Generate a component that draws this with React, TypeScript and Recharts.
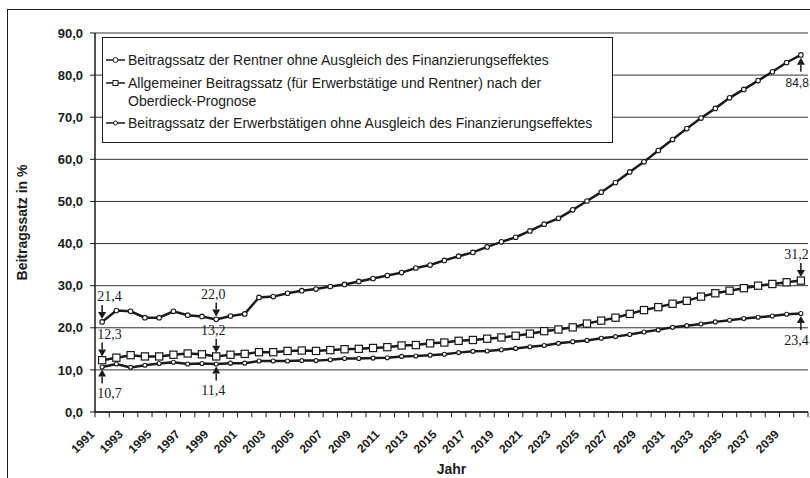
import React from 'react';
import { LineChart, Line, XAxis, YAxis, CartesianGrid, Legend, ReferenceLine } from 'recharts';

const YEARS = [
  1991, 1992, 1993, 1994, 1995, 1996, 1997, 1998, 1999, 2000,
  2001, 2002, 2003, 2004, 2005, 2006, 2007, 2008, 2009, 2010,
  2011, 2012, 2013, 2014, 2015, 2016, 2017, 2018, 2019, 2020,
  2021, 2022, 2023, 2024, 2025, 2026, 2027, 2028, 2029, 2030,
  2031, 2032, 2033, 2034, 2035, 2036, 2037, 2038, 2039, 2040,
];

// Beitragssatz der Rentner ohne Ausgleich des Finanzierungseffektes
const RENTNER = [
  21.4, 24.1, 23.9, 22.4, 22.4, 23.9, 23.0, 22.7, 22.0, 22.8,
  23.3, 27.2, 27.4, 28.2, 28.8, 29.2, 29.8, 30.3, 31.0, 31.7,
  32.4, 33.1, 34.2, 34.9, 36.0, 37.0, 37.9, 39.2, 40.4, 41.5,
  43.0, 44.6, 46.0, 48.0, 50.1, 52.2, 54.5, 57.0, 59.4, 62.1,
  64.7, 67.3, 69.8, 72.1, 74.6, 76.6, 78.7, 80.8, 83.0, 84.8,
];

// Allgemeiner Beitragssatz (Oberdieck-Prognose)
const ALLGEMEIN = [
  12.3, 12.9, 13.5, 13.2, 13.2, 13.6, 13.9, 13.7, 13.2, 13.6,
  13.8, 14.2, 14.2, 14.5, 14.6, 14.5, 14.7, 14.9, 15.0, 15.2,
  15.4, 15.8, 15.9, 16.3, 16.5, 16.9, 17.1, 17.4, 17.7, 18.1,
  18.6, 19.2, 19.6, 20.1, 21.0, 21.7, 22.4, 23.3, 24.2, 24.9,
  25.7, 26.4, 27.4, 28.2, 28.8, 29.4, 30.0, 30.4, 30.8, 31.2,
];

// Beitragssatz der Erwerbstätigen ohne Ausgleich des Finanzierungseffektes
const ERWERB = [
  10.7, 11.4, 10.6, 11.1, 11.5, 11.8, 11.4, 11.5, 11.4, 11.6,
  11.6, 12.1, 12.1, 12.1, 12.2, 12.2, 12.4, 12.7, 12.7, 12.8,
  12.9, 13.2, 13.3, 13.5, 13.7, 14.1, 14.4, 14.5, 14.8, 15.1,
  15.5, 15.8, 16.3, 16.7, 17.0, 17.5, 17.9, 18.4, 19.0, 19.5,
  20.1, 20.5, 20.9, 21.4, 21.8, 22.2, 22.5, 22.8, 23.2, 23.4,
];

const X_LABELS = [
  1991, 1993, 1995, 1997, 1999, 2001, 2003, 2005, 2007, 2009, 2011, 2013,
  2015, 2017, 2019, 2021, 2023, 2025, 2027, 2029, 2031, 2033, 2035, 2037, 2039,
];
const Y_TICKS = [0, 10, 20, 30, 40, 50, 60, 70, 80, 90];

const SERIES_ORDER = ['rentner', 'allgemein', 'erwerb'];
const SERIES_NAMES: Record<string, string> = {
  rentner: 'Beitragssatz der Rentner ohne Ausgleich des Finanzierungseffektes',
  allgemein: 'Allgemeiner Beitragssatz (für Erwerbstätige und Rentner) nach der\nOberdieck-Prognose',
  erwerb: 'Beitragssatz der Erwerbstätigen ohne Ausgleich des Finanzierungseffektes',
};

type Annotation = {
  series: string;
  year: number;
  text: string;
  dir: 'up' | 'down';
  align: 'start' | 'middle' | 'end';
  sans?: boolean;
};

const ANNOTATIONS: Annotation[] = [
  { series: 'rentner', year: 1991, text: '21,4', dir: 'down', align: 'start' },
  { series: 'rentner', year: 1999, text: '22,0', dir: 'down', align: 'middle' },
  { series: 'rentner', year: 2040, text: '84,8', dir: 'up', align: 'end', sans: true },
  { series: 'allgemein', year: 1991, text: '12,3', dir: 'down', align: 'start' },
  { series: 'allgemein', year: 1999, text: '13,2', dir: 'down', align: 'middle' },
  { series: 'allgemein', year: 2040, text: '31,2', dir: 'down', align: 'end' },
  { series: 'erwerb', year: 1991, text: '10,7', dir: 'up', align: 'start' },
  { series: 'erwerb', year: 1999, text: '11,4', dir: 'up', align: 'middle' },
  { series: 'erwerb', year: 2040, text: '23,4', dir: 'up', align: 'end' },
];

const SANS = '"Liberation Sans", Arial, sans-serif';
const SERIF = '"Liberation Serif", "Times New Roman", serif';
const INK = '#1a1a1a';

const data = YEARS.map((year, i) => ({
  year,
  rentner: RENTNER[i],
  allgemein: ALLGEMEIN[i],
  erwerb: ERWERB[i],
}));

// tick marks sit between the categories, like the Excel original
const BOUNDARY_TICKS = [...YEARS.map(y => y - 0.5), YEARS[YEARS.length - 1] + 0.5];
const X_DOMAIN = [BOUNDARY_TICKS[0], BOUNDARY_TICKS[BOUNDARY_TICKS.length - 1]];

const fmt = (v: number) => v.toFixed(1).replace('.', ',');

const Callout = ({ cx, cy, ann, gap }: { cx: number; cy: number; ann: Annotation; gap: number }) => {
  const s = ann.dir === 'down' ? -1 : 1;
  const tip = cy + s * gap;
  const base = tip + s * 7;
  const tail = tip + s * 14;
  const ty = ann.dir === 'down' ? tail - 4 : tail + 15;
  const tx = ann.align === 'start' ? cx - 5 : ann.align === 'middle' ? cx - 3 : cx + 8;
  return (
    <g>
      <line x1={cx} y1={base} x2={cx} y2={tail} stroke={INK} strokeWidth={1.5} />
      <polygon points={`${cx},${tip} ${cx - 4},${base} ${cx + 4},${base}`} fill={INK} />
      <text
        x={tx}
        y={ty}
        textAnchor={ann.align}
        fontFamily={ann.sans ? SANS : SERIF}
        fontSize={ann.sans ? 12 : 14}
        fill={INK}
      >
        {ann.text}
      </text>
    </g>
  );
};

const makeDot = (series: string, shape: 'circle' | 'square', size: number) => (props: any) => {
  const { cx, cy, index, payload } = props;
  const key = `${series}-${index}`;
  if (cx == null || cy == null) return <g key={key} />;
  const ann = ANNOTATIONS.find(a => a.series === series && a.year === payload.year);
  return (
    <g key={key}>
      {shape === 'square' ? (
        <rect x={cx - size} y={cy - size} width={size * 2} height={size * 2} fill="#fff" stroke={INK} strokeWidth={1.2} />
      ) : (
        <circle cx={cx} cy={cy} r={size} fill="#fff" stroke={INK} strokeWidth={1.1} />
      )}
      {ann && <Callout cx={cx} cy={cy} ann={ann} gap={shape === 'square' ? size : size + 0.5} />}
    </g>
  );
};

const YearTick = (props: any) => {
  const { x, y, payload } = props;
  const ax = x - 7;
  const ay = y + 15;
  return (
    <text
      x={ax}
      y={ay}
      transform={`rotate(-45 ${ax} ${ay})`}
      textAnchor="end"
      fontFamily={SANS}
      fontWeight="bold"
      fontSize={12}
      fill={INK}
    >
      {payload.value}
    </text>
  );
};

const YTitle = (props: any) => {
  const vb = props.viewBox || { x: 0, y: 0, width: 0, height: 0 };
  const x = vb.x + 22;
  const y = vb.y + vb.height / 2;
  return (
    <text
      x={x}
      y={y}
      transform={`rotate(-90 ${x} ${y})`}
      textAnchor="middle"
      dominantBaseline="central"
      fontFamily={SANS}
      fontWeight="bold"
      fontSize={14}
      fill={INK}
    >
      Beitragssatz in %
    </text>
  );
};

const LegendMarker = ({ kind }: { kind: string }) => (
  <svg width={20} height={18} style={{ flex: 'none', marginRight: 2 }}>
    <line x1={0} y1={9} x2={19} y2={9} stroke={INK} strokeWidth={1.5} />
    {kind === 'allgemein' ? (
      <rect x={7} y={6.5} width={5} height={5} fill="#fff" stroke={INK} strokeWidth={1} />
    ) : (
      <circle cx={9.5} cy={9} r={kind === 'rentner' ? 2.5 : 2} fill="#fff" stroke={INK} strokeWidth={1} />
    )}
  </svg>
);

const LegendBox = () => (
  <div
    style={{
      border: `1px solid ${INK}`,
      background: '#fff',
      padding: '13px 4px 10px 3px',
      fontFamily: SANS,
      fontSize: 14,
      color: INK,
      boxSizing: 'border-box',
      width: 511,
    }}
  >
    {SERIES_ORDER.map((key, i) => (
      <div key={key} style={{ display: 'flex', alignItems: 'flex-start', marginBottom: i < SERIES_ORDER.length - 1 ? 4.5 : 0 }}>
        <LegendMarker kind={key} />
        <span style={{ whiteSpace: 'pre', lineHeight: '18px' }}>{SERIES_NAMES[key]}</span>
      </div>
    ))}
  </div>
);

export default function App() {
  return (
    <div style={{ position: 'absolute', left: 0, top: 0, width: 810, height: 478, overflow: 'hidden', background: '#fff' }}>
      <div
        style={{
          position: 'absolute',
          left: 7,
          top: 9,
          width: 900,
          height: 600,
          borderLeft: `1.5px solid ${INK}`,
          borderTop: `1.5px solid ${INK}`,
        }}
      />
      <LineChart width={810} height={478} data={data} margin={{ top: 33, right: 2, left: 0, bottom: 0 }}>
        <CartesianGrid vertical={false} stroke="#333" strokeWidth={1} />
        <XAxis
          dataKey="year"
          type="number"
          domain={X_DOMAIN}
          ticks={X_LABELS}
          interval={0}
          height={66}
          axisLine={{ stroke: INK, strokeWidth: 1.5 }}
          tickLine={false}
          tickSize={6}
          tickMargin={2}
          tick={<YearTick />}
          label={{ value: 'Jahr', position: 'insideBottom', offset: 4, fill: INK, fontFamily: SANS, fontWeight: 'bold', fontSize: 14 }}
        />
        <YAxis
          type="number"
          domain={[0, 90]}
          ticks={Y_TICKS}
          interval={0}
          width={95}
          tickFormatter={fmt}
          tickSize={5}
          tickMargin={7}
          axisLine={{ stroke: INK, strokeWidth: 1.5 }}
          tickLine={{ stroke: INK, strokeWidth: 1 }}
          tick={{ fill: INK, fontFamily: SANS, fontWeight: 'bold', fontSize: 13 }}
          label={<YTitle />}
        />
        {BOUNDARY_TICKS.map(b => (
          <ReferenceLine
            key={b}
            segment={[{ x: b, y: 0 }, { x: b, y: -1.25 }]}
            ifOverflow="visible"
            stroke={INK}
            strokeWidth={1}
          />
        ))}
        <Legend
          layout="vertical"
          align="center"
          verticalAlign="middle"
          wrapperStyle={{ left: 102, top: 37, width: 511 }}
          content={<LegendBox />}
        />
        <Line
          dataKey="rentner"
          name={SERIES_NAMES.rentner}
          stroke={INK}
          strokeWidth={2.5}
          dot={makeDot('rentner', 'circle', 2.3)}
          isAnimationActive={false}
        />
        <Line
          dataKey="allgemein"
          name={SERIES_NAMES.allgemein}
          stroke={INK}
          strokeWidth={2.5}
          dot={makeDot('allgemein', 'square', 3.6)}
          isAnimationActive={false}
        />
        <Line
          dataKey="erwerb"
          name={SERIES_NAMES.erwerb}
          stroke={INK}
          strokeWidth={2.5}
          dot={makeDot('erwerb', 'circle', 2)}
          isAnimationActive={false}
        />
      </LineChart>
    </div>
  );
}
